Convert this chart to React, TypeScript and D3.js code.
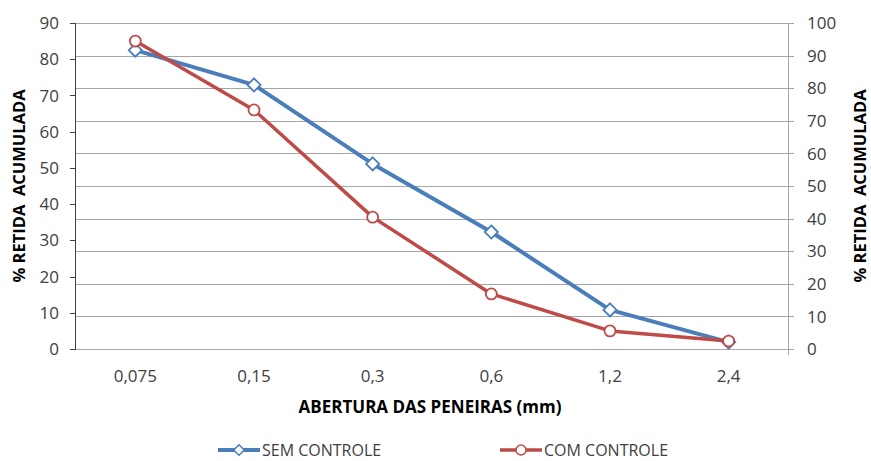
import * as d3 from 'd3';
import React, { useRef, useEffect } from 'react';

const categories = ['0,075', '0,15', '0,3', '0,6', '1,2', '2,4'];
const semControle = [82.5, 72.9, 51.1, 32.3, 10.8, 1.9];
const comControle = [85.0, 66.0, 36.4, 15.2, 5.0, 2.2];
const leftTicks = [0, 10, 20, 30, 40, 50, 60, 70, 80, 90];
const rightTicks = [0, 10, 20, 30, 40, 50, 60, 70, 80, 90, 100];

const FONT = "'Open Sans', 'Liberation Sans', sans-serif";
const BLUE = '#4A7EBB';
const RED = '#BE4B48';

function App() {
  const width = 871;
  const height = 461;
  const left = 76;
  const right = 788;
  const top = 23;
  const bottom = 349;
  const svgRef = useRef<SVGSVGElement>(null);

  useEffect(() => {
    const svg = d3.select(svgRef.current);
    svg.selectAll('*').remove();

    const x = d3.scaleBand().domain(categories).range([left, right]);
    const yLeft = d3.scaleLinear().domain([0, 90]).range([bottom, top]);
    const yRight = d3.scaleLinear().domain([0, 100]).range([bottom, top]);
    const cx = (c: string) => (x(c) as number) + x.bandwidth() / 2;

    // gridlines follow the right axis
    svg
      .append('g')
      .selectAll('line')
      .data(rightTicks)
      .join('line')
      .attr('x1', left)
      .attr('x2', right + 6)
      .attr('y1', (d) => Math.round(yRight(d)) + 0.5)
      .attr('y2', (d) => Math.round(yRight(d)) + 0.5)
      .attr('stroke', '#A6A6A6')
      .attr('stroke-width', 1);

    // left axis
    const gl = svg.append('g');
    gl.append('line')
      .attr('x1', left - 0.5)
      .attr('x2', left - 0.5)
      .attr('y1', top)
      .attr('y2', bottom + 0.5)
      .attr('stroke', '#404040');
    gl.selectAll('line.t')
      .data(leftTicks)
      .join('line')
      .attr('class', 't')
      .attr('x1', left - 6)
      .attr('x2', left)
      .attr('y1', (d) => Math.round(yLeft(d)) + 0.5)
      .attr('y2', (d) => Math.round(yLeft(d)) + 0.5)
      .attr('stroke', '#404040');
    gl.selectAll('text')
      .data(leftTicks)
      .join('text')
      .attr('x', left - 17)
      .attr('y', (d) => yLeft(d))
      .attr('dy', '0.36em')
      .attr('text-anchor', 'end')
      .attr('font-family', FONT)
      .attr('font-size', 17)
      .attr('fill', '#404040')
      .text((d) => d);

    // right axis
    const gr = svg.append('g');
    gr.append('line')
      .attr('x1', right + 0.5)
      .attr('x2', right + 0.5)
      .attr('y1', top)
      .attr('y2', bottom + 6)
      .attr('stroke', '#A6A6A6');
    gr.selectAll('text')
      .data(rightTicks)
      .join('text')
      .attr('x', right + 19)
      .attr('y', (d) => yRight(d))
      .attr('dy', '0.36em')
      .attr('text-anchor', 'start')
      .attr('font-family', FONT)
      .attr('font-size', 17)
      .attr('fill', '#404040')
      .text((d) => d);

    // category labels
    svg
      .append('g')
      .selectAll('text')
      .data(categories)
      .join('text')
      .attr('x', (d) => cx(d))
      .attr('y', 376)
      .attr('dy', '0.36em')
      .attr('text-anchor', 'middle')
      .attr('font-family', FONT)
      .attr('font-size', 17)
      .attr('fill', '#404040')
      .text((d) => d);

    // axis titles
    svg
      .append('text')
      .attr('x', 430)
      .attr('y', 407)
      .attr('dy', '0.36em')
      .attr('text-anchor', 'middle')
      .attr('font-family', FONT)
      .attr('font-size', 17)
      .attr('font-weight', 'bold')
      .attr('fill', '#000')
      .text('ABERTURA DAS PENEIRAS (mm)');
    [
      [19, 186],
      [860, 186],
    ].forEach(([tx, ty]) => {
      svg
        .append('text')
        .attr('transform', `translate(${tx},${ty}) rotate(-90)`)
        .attr('dy', '0.36em')
        .attr('text-anchor', 'middle')
        .attr('font-family', FONT)
        .attr('font-size', 16.5)
        .attr('font-weight', 'bold')
        .attr('fill', '#000')
        .style('white-space', 'pre')
        .text('% RETIDA  ACUMULADA');
    });

    const line = d3
      .line<number>()
      .x((_, i) => cx(categories[i]))
      .y((d) => yLeft(d));

    // series
    svg
      .append('path')
      .datum(semControle)
      .attr('d', line)
      .attr('fill', 'none')
      .attr('stroke', BLUE)
      .attr('stroke-width', 4)
      .attr('stroke-linejoin', 'round');
    const diamond = d3.symbol().type(d3.symbolDiamond2).size(110);
    svg
      .append('g')
      .selectAll('path')
      .data(semControle)
      .join('path')
      .attr('d', diamond)
      .attr('transform', (d, i) => `translate(${cx(categories[i])},${yLeft(d)})`)
      .attr('fill', '#fff')
      .attr('stroke', BLUE)
      .attr('stroke-width', 1.8);

    svg
      .append('path')
      .datum(comControle)
      .attr('d', line)
      .attr('fill', 'none')
      .attr('stroke', RED)
      .attr('stroke-width', 3.5)
      .attr('stroke-linejoin', 'round');
    svg
      .append('g')
      .selectAll('circle')
      .data(comControle)
      .join('circle')
      .attr('cx', (d, i) => cx(categories[i]))
      .attr('cy', (d) => yLeft(d))
      .attr('r', 5.5)
      .attr('fill', '#fff')
      .attr('stroke', RED)
      .attr('stroke-width', 1.8);

    // legend
    const legend = [
      { name: 'SEM CONTROLE', color: BLUE, x: 218, kind: 'diamond' },
      { name: 'COM CONTROLE', color: RED, x: 500, kind: 'circle' },
    ];
    const ly = 450;
    legend.forEach((l) => {
      const g = svg.append('g');
      g.append('line')
        .attr('x1', l.x)
        .attr('x2', l.x + 42)
        .attr('y1', ly)
        .attr('y2', ly)
        .attr('stroke', l.color)
        .attr('stroke-width', l.kind === 'diamond' ? 4 : 3.5);
      if (l.kind === 'diamond') {
        g.append('path')
          .attr('d', d3.symbol().type(d3.symbolDiamond2).size(70)())
          .attr('transform', `translate(${l.x + 21},${ly})`)
          .attr('fill', '#fff')
          .attr('stroke', l.color)
          .attr('stroke-width', 1.5);
      } else {
        g.append('circle')
          .attr('cx', l.x + 21)
          .attr('cy', ly)
          .attr('r', 5)
          .attr('fill', '#fff')
          .attr('stroke', l.color)
          .attr('stroke-width', 1.5);
      }
      g.append('text')
        .attr('x', l.x + 44)
        .attr('y', ly)
        .attr('dy', '0.36em')
        .attr('font-family', FONT)
        .attr('font-size', 16)
        .attr('fill', '#404040')
        .text(l.name);
    });
  }, []);

  return (
    <svg
      ref={svgRef}
      width={width}
      height={height}
      style={{ position: 'absolute', left: 0, top: 0, background: '#fff' }}
    />
  );
}

export default App;
